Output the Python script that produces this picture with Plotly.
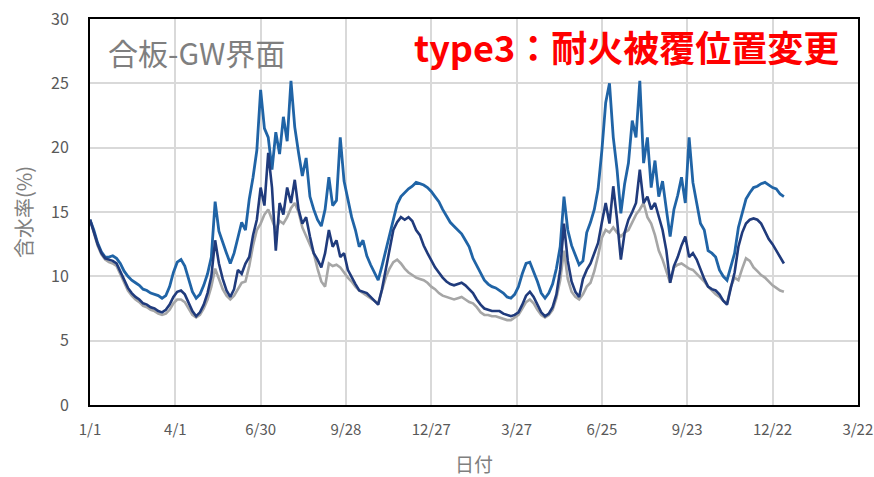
import pandas as pd
import plotly.graph_objects as go

# ---- data (4-day sampling from 1/1) ----
start_date = "2021-01-01"
step_days = 4

light_vals = [
    14.4, 13.6, 12.6, 11.9, 11.5, 11.5, 11.6, 11.4, 11.0, 10.4, 10.0, 9.7, 9.5, 9.3, 9.0, 8.9,
    8.7, 8.6, 8.5, 8.3, 8.5, 9.2, 10.3, 11.1, 11.3, 10.8, 9.8, 8.8, 8.3, 8.6, 9.3, 10.2,
    11.5, 15.8, 13.5, 12.6, 11.8, 11.0, 11.8, 13.0, 14.2, 13.6, 16.0, 17.7, 19.8, 24.5, 21.5, 20.8,
    18.3, 21.2, 19.5, 22.4, 20.5, 25.2, 21.6, 19.6, 17.8, 19.2, 16.2, 15.2, 14.4, 13.9, 15.2, 17.7,
    15.5, 15.9, 20.8, 17.4, 16.0, 14.6, 13.6, 12.3, 12.8, 11.6, 10.9, 10.3, 9.7, 10.8, 12.0, 13.2,
    14.4, 15.6, 16.2, 16.5, 16.8, 17.0, 17.3, 17.2, 17.1, 16.9, 16.6, 16.2, 15.8, 15.2, 14.7, 14.2,
    13.9, 13.6, 13.3, 12.8, 12.3, 11.4, 10.8, 10.2, 9.7, 9.4, 9.2, 9.1, 8.9, 8.7, 8.4, 8.3,
    8.6, 9.2, 10.2, 11.0, 11.1, 10.4, 9.6, 8.7, 8.3, 8.7, 9.4, 10.6, 12.3, 16.2, 13.6, 12.4,
    11.6, 10.9, 11.2, 13.4, 14.2, 15.2, 16.8, 19.8, 23.5, 25.0, 20.8, 18.3, 14.9, 17.2, 18.8, 22.1,
    20.8, 25.2, 18.8, 20.8, 16.9, 19.0, 16.2, 17.4, 15.2, 13.1, 15.2, 16.3, 17.7, 15.7, 20.8, 17.3,
    15.7, 14.1, 13.6, 12.0, 11.8, 11.5, 10.5, 10.0, 9.7, 10.8, 11.8, 13.8, 15.0, 16.0, 16.5, 16.9,
    17.0, 17.2, 17.3, 17.1, 16.9, 16.8, 16.4, 16.2,
]

dark_vals = [
    14.4, 13.5, 12.5, 11.8, 11.4, 11.3, 11.2, 11.0, 10.4, 9.7, 9.1, 8.7, 8.4, 8.2, 7.9, 7.8,
    7.6, 7.5, 7.3, 7.2, 7.4, 7.8, 8.4, 8.8, 8.9, 8.6, 7.9, 7.3, 6.9, 7.2, 7.8, 8.7,
    10.0, 12.8, 11.0, 9.8, 8.9, 8.4, 9.0, 10.5, 10.2, 11.0, 11.5, 13.2, 14.4, 16.9, 15.5, 19.6,
    16.9, 12.0, 15.7, 14.8, 16.9, 15.7, 17.5, 15.2, 14.1, 14.6, 13.1, 11.8, 11.3, 10.7, 11.8, 13.6,
    12.3, 12.8, 11.5, 11.8, 10.5, 9.9, 9.4, 8.9, 8.8, 8.7, 8.4, 8.1, 7.8, 9.0, 10.5, 12.0,
    13.6, 14.2, 14.6, 14.4, 14.6, 14.3, 13.6, 13.2, 12.4, 11.8, 11.2, 10.7, 10.3, 9.9, 9.6, 9.4,
    9.3, 9.4, 9.5, 9.3, 9.0, 8.7, 8.2, 7.8, 7.5, 7.4, 7.3, 7.3, 7.3, 7.1, 7.0, 6.9,
    7.0, 7.2, 7.8, 8.5, 8.8, 8.4, 7.8, 7.2, 6.9, 7.1, 7.6, 8.6, 10.5, 14.1, 11.2, 9.6,
    8.8, 8.4, 9.8, 10.5, 11.0, 11.8, 12.6, 14.2, 15.7, 14.1, 17.0, 14.4, 11.3, 13.4, 14.4, 15.0,
    15.7, 18.3, 15.7, 16.2, 15.2, 15.7, 14.6, 13.6, 12.0, 9.5, 10.8, 11.5, 12.4, 13.1, 11.5, 11.8,
    11.3, 10.5, 9.8, 9.2, 9.0, 8.9, 8.6, 8.1, 7.8, 9.1, 10.3, 12.3, 13.4, 14.1, 14.4, 14.5,
    14.4, 14.1, 13.5, 12.9, 12.5, 12.0, 11.5, 11.0,
]

grey_vals = [
    14.4, 13.4, 12.4, 11.7, 11.3, 11.1, 11.0, 10.8, 10.2, 9.5, 8.9, 8.5, 8.2, 8.0, 7.7, 7.6,
    7.4, 7.3, 7.1, 7.0, 7.1, 7.4, 7.9, 8.2, 8.2, 8.0, 7.5, 7.0, 6.8, 7.0, 7.5, 8.2,
    9.2, 10.6, 9.8, 9.0, 8.5, 8.2, 8.5, 9.0, 9.5, 9.6, 10.8, 12.4, 13.6, 14.1, 14.8, 15.2,
    14.4, 13.6, 14.3, 14.1, 14.6, 15.3, 15.7, 15.0, 13.8, 13.1, 12.4, 11.8, 10.6, 9.6, 9.2, 11.0,
    10.8, 10.9, 10.7, 10.3, 9.9, 9.6, 9.2, 8.9, 8.7, 8.5, 8.3, 8.1, 7.9, 8.9, 9.9, 10.6,
    11.1, 11.3, 11.0, 10.6, 10.3, 10.1, 9.9, 9.8, 9.7, 9.5, 9.2, 9.0, 8.7, 8.5, 8.4, 8.3,
    8.2, 8.3, 8.4, 8.2, 8.0, 7.9, 7.6, 7.2, 7.0, 7.0, 6.9, 6.9, 6.8, 6.7, 6.6, 6.6,
    6.8, 7.0, 7.5, 8.0, 8.2, 7.9, 7.4, 7.0, 6.8, 7.0, 7.4, 8.3, 9.7, 12.0, 9.8, 8.8,
    8.4, 8.2, 8.6, 9.2, 9.5, 10.4, 11.6, 13.0, 13.6, 13.4, 13.8, 13.4, 13.1, 13.4, 13.6, 14.2,
    14.8, 15.2, 15.7, 14.6, 14.1, 13.2, 12.0, 11.3, 10.4, 9.5, 10.7, 10.9, 11.0, 10.8, 10.6, 10.5,
    10.2, 9.9, 9.6, 9.2, 8.9, 8.6, 8.4, 8.1, 7.9, 9.2, 9.9, 9.7, 10.6, 11.4, 11.2, 10.7,
    10.4, 10.1, 9.9, 9.6, 9.3, 9.1, 8.9, 8.8,
]

tick_dates = ["2021-01-01", "2021-04-01", "2021-06-30", "2021-09-28", "2021-12-27",
              "2022-03-27", "2022-06-25", "2022-09-23", "2022-12-22", "2023-03-22"]
tick_labels = ["1/1", "4/1", "6/30", "9/28", "12/27", "3/27", "6/25", "9/23", "12/22", "3/22"]
y_ticks = [0, 5, 10, 15, 20, 25, 30]

title_text = "合板-GW界面"
note_text = "type3：耐火被覆位置変更"
x_title = "日付"
y_title = "含水率(%)"


def dates_for(vals):
    return pd.date_range(start_date, periods=len(vals), freq=f"{step_days}D")


FONT = "Noto Sans CJK JP"
fig = go.Figure()
fig.add_trace(go.Scatter(x=dates_for(grey_vals), y=grey_vals, mode="lines",
                         line=dict(color="#A6A6A6", width=2.6), showlegend=False))
fig.add_trace(go.Scatter(x=dates_for(light_vals), y=light_vals, mode="lines",
                         line=dict(color="#2064A6", width=2.8), showlegend=False))
fig.add_trace(go.Scatter(x=dates_for(dark_vals), y=dark_vals, mode="lines",
                         line=dict(color="#203B7C", width=2.6), showlegend=False))

fig.update_layout(
    width=874, height=477,
    margin=dict(l=90, r=16, t=19, b=72, autoexpand=False),
    paper_bgcolor="white", plot_bgcolor="white",
    font=dict(family=FONT, color="#595959", size=15),
    xaxis=dict(
        range=[tick_dates[0], "2023-03-22 04:00"],
        tickvals=tick_dates, ticktext=tick_labels,
        showgrid=True, gridcolor="#D9D9D9", gridwidth=1.5,
        showline=True, linecolor="black", linewidth=2, mirror=True,
        ticks="", tickfont=dict(size=15, color="#595959"), ticklabelstandoff=10,
        ticklabeloverflow="allow",
        title=dict(text=x_title, font=dict(size=19, color="#7F7F7F"), standoff=21),
        zeroline=False, automargin=False,
    ),
    yaxis=dict(
        range=[0, 30], tickvals=y_ticks,
        showgrid=True, gridcolor="#D9D9D9", gridwidth=1.5,
        showline=True, linecolor="black", linewidth=2, mirror=True,
        ticks="", tickfont=dict(size=16, color="#595959"), ticklabelstandoff=16,
        ticklabeloverflow="allow",
        title=dict(text=y_title, font=dict(size=20, color="#7F7F7F"), standoff=13),
        zeroline=False, automargin=False,
    ),
    annotations=[
        dict(text=title_text, xref="paper", yref="paper", x=0.021, y=0.915,
             xanchor="left", yanchor="middle", showarrow=False,
             font=dict(family=FONT, size=30, color="#7F7F7F")),
        dict(text=f"<b>{note_text}</b>", xref="paper", yref="paper", x=0.978, y=0.93,
             xanchor="right", yanchor="middle", showarrow=False,
             font=dict(family=FONT, size=36, color="#FF0000")),
    ],
)

# remove the default page margin so the figure fills the 874x477 window exactly
fig.write_html("out.html", config={"displayModeBar": False},
               post_script="document.body.style.margin='0';document.body.style.overflow='hidden';")
